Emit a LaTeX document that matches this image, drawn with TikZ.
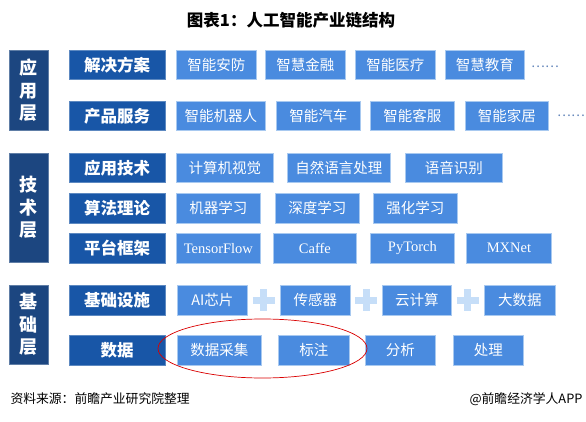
\documentclass[tikz,border=0pt]{standalone}
\usepackage{fontspec}
\setmainfont{Noto Sans CJK SC}
\newfontfamily\latinserif{Liberation Serif}
\usepackage{tikz}
\usetikzlibrary{
  	positioning,
  	shapes,
  	calc
  }
\definecolor{layerblue}{HTML}{1C4680}
\definecolor{catblue}{HTML}{1856A7}
\definecolor{itemblue}{HTML}{4A8BDF}
\definecolor{itemedge}{HTML}{A8C9F0}
\definecolor{plusblue}{HTML}{C6DEF8}
\definecolor{dotgray}{HTML}{5F82B8}
\tikzstyle{layer}=[anchor=north west,fill=layerblue,draw=layerblue!70!white,text=white,
  minimum width=39,inner sep=0pt,align=center,
  font=\bfseries\fontsize{18}{22.5}\selectfont]
\tikzstyle{cat}=[anchor=north west,fill=catblue,draw=catblue!70!white,text=white,
  minimum width=96,minimum height=29.5,inner sep=0pt,
  font=\bfseries\fontsize{16.5}{18}\selectfont]
\tikzstyle{item}=[anchor=north west,fill=itemblue,draw=itemedge,line width=0.8pt,text=white,
  minimum height=29.5,inner sep=0pt,font=\fontsize{14.5}{16}\selectfont]
\tikzstyle{latin}=[font=\latinserif\fontsize{14.5}{16}\selectfont]
\tikzstyle{dots}=[text=dotgray,inner sep=0pt,font=\fontsize{13}{14}\selectfont]
\tikzstyle{plus}=[draw=plusblue,line width=7pt]

\begin{document}
\begin{tikzpicture}[x=1pt,y=-1pt]
\useasboundingbox (0,0) rectangle (586,422);
\node[font=\bfseries\fontsize{16.5}{18}\selectfont] (title) at (291,20) {图表1：人工智能产业链结构};
% layers
\node[layer,minimum height=80] (appLayer) at (9,50) {应\\用\\层};
\node[layer,minimum height=109] (techLayer) at (9,153) {技\\术\\层};
\node[layer,minimum height=79] (baseLayer) at (9,285) {基\\础\\层};
% categories
\node[cat] (solution) at (69,50) {解决方案};
\node[cat] (product) at (69,101) {产品服务};
\node[cat] (appTech) at (69,153) {应用技术};
\node[cat] (algo) at (69,193) {算法理论};
\node[cat] (platform) at (69,233) {平台框架};
\node[cat] (infra) at (69,285) {基础设施};
\node[cat] (data) at (69,335) {数据};
% application layer
\node[item,minimum width=80] (security) at (176,50) {智能安防};
\node[item,minimum width=80] (finance) at (265,50) {智慧金融};
\node[item,minimum width=80] (medical) at (355,50) {智能医疗};
\node[item,minimum width=79] (education) at (445,50) {智慧教育};
\node[dots] (moreA) at (545,67) {……};
\node[item,minimum width=89] (robot) at (176,101) {智能机器人};
\node[item,minimum width=84] (car) at (276,101) {智能汽车};
\node[item,minimum width=84] (service) at (370,101) {智能客服};
\node[item,minimum width=83] (home) at (465,101) {智能家居};
\node[dots] (moreB) at (571,116) {……};
% technology layer
\node[item,minimum width=97] (vision) at (176,153) {计算机视觉};
\node[item,minimum width=103] (nlp) at (287,153) {自然语言处理};
\node[item,minimum width=97] (speech) at (405,153) {语音识别};
\node[item,minimum width=84] (ml) at (176,193) {机器学习};
\node[item,minimum width=84] (dl) at (275,193) {深度学习};
\node[item,minimum width=84] (rl) at (373,193) {强化学习};
\node[item,latin,minimum width=84] (tf) at (176,233) {TensorFlow};
\node[item,latin,minimum width=83] (caffe) at (273,233) {Caffe};
\node[item,latin,minimum width=84] (torch) at (370,233) {PyTorch};
\node[item,latin,minimum width=85] (mxnet) at (466,233) {MXNet};
% base layer
\node[item,minimum width=70] (chip) at (177,285) {AI芯片};
\node[item,minimum width=70] (sensor) at (280,285) {传感器};
\node[item,minimum width=69] (cloud) at (382,285) {云计算};
\node[item,minimum width=71] (bigdata) at (484,285) {大数据};
\node[item,minimum width=84] (collect) at (177,335) {数据采集};
\node[item,minimum width=71] (label) at (278,335) {标注};
\node[item,minimum width=70] (analyse) at (365,335) {分析};
\node[item,minimum width=70] (process) at (453,335) {处理};
% plus signs
\path ($(chip.east)!0.5!(sensor.west)$) coordinate (plusA);
\path ($(sensor.east)!0.5!(cloud.west)$) coordinate (plusB);
\path ($(cloud.east)!0.5!(bigdata.west)$) coordinate (plusC);
\draw[plus] ($(plusA)+(-11,0)$) -- ($(plusA)+(11,0)$) ($(plusA)+(0,-11)$) -- ($(plusA)+(0,11)$);
\draw[plus] ($(plusB)+(-11,0)$) -- ($(plusB)+(11,0)$) ($(plusB)+(0,-11)$) -- ($(plusB)+(0,11)$);
\draw[plus] ($(plusC)+(-11,0)$) -- ($(plusC)+(11,0)$) ($(plusC)+(0,-11)$) -- ($(plusC)+(0,11)$);
% highlight
\draw[red!85!black,line width=0.7pt] (262.5,348.5) ellipse [x radius=104.5,y radius=29.5];
% footer
\node[anchor=west,font=\fontsize{12.8}{14}\selectfont] (source) at (7,399) {资料来源：前瞻产业研究院整理};
\node[anchor=east,font=\fontsize{12.8}{14}\selectfont] (brand) at (586,399) {@前瞻经济学人APP};
\end{tikzpicture}
\end{document}
